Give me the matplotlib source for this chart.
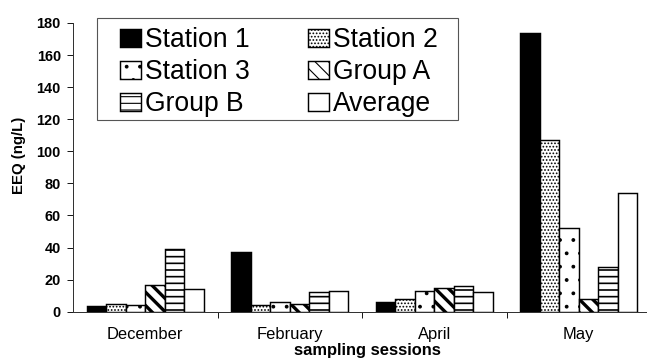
import matplotlib
matplotlib.use("Agg")
import matplotlib.pyplot as plt
from matplotlib.patches import Rectangle
import numpy as np

sessions = ["December", "February", "April", "May"]
series_names = ["Station 1", "Station 2", "Station 3", "Group A", "Group B", "Average"]
station1 = [3.5, 37, 6, 174]
station2 = [5, 4, 8, 107]
station3 = [4, 6, 13, 52]
group_a = [16.5, 4.5, 15, 8]
group_b = [39, 12.5, 16, 28]
average = [14, 13, 12, 74]
y_ticks = [0, 20, 40, 60, 80, 100, 120, 140, 160, 180]

series = [station1, station2, station3, group_a, group_b, average]
styles = [
    dict(facecolor="black", hatch=None, hlw=1.0),
    dict(facecolor="white", hatch="....", hlw=1.0),
    dict(facecolor="white", hatch=".", hlw=1.0),
    dict(facecolor="white", hatch="\\\\", hlw=3.0),
    dict(facecolor="white", hatch="--", hlw=1.5),
    dict(facecolor="white", hatch=None, hlw=1.0),
]

plt.rcParams['font.family'] = ['Liberation Sans', 'DejaVu Sans']
DPI = 80
W, H = 647, 360
fig = plt.figure(figsize=(W / DPI, H / DPI), dpi=DPI)
ax = fig.add_axes([73 / W, (H - 311.7) / H, 578 / W, (311.7 - 23) / H])

x = np.arange(len(sessions))
w = 0.135
handles = []
for i, (vals, name, st) in enumerate(zip(series, series_names, styles)):
    plt.rcParams['hatch.linewidth'] = st["hlw"]
    bars = ax.bar(x + (i - 2.5) * w, vals, width=w, facecolor=st["facecolor"],
                  edgecolor="black", linewidth=1.3, hatch=st["hatch"], label=name)
    for b in bars:
        try:
            b.set_hatch_linewidth(st["hlw"])
        except Exception:
            pass
    handles.append(bars)

ax.set_xlim(-0.5, 3.5)
ax.set_ylim(0, 180)
ax.set_yticks(y_ticks)
ax.set_yticklabels([str(v) for v in y_ticks], fontweight="bold", fontsize=13)
ax.set_xticks(x)
ax.set_xticklabels(sessions, fontsize=14.8)
ax.set_xticks([0.5, 1.5, 2.5], minor=True)
ax.tick_params(axis="x", which="major", length=0, pad=14)
ax.tick_params(axis="x", which="minor", length=5, width=0.8, direction="out")
ax.tick_params(axis="y", length=5, width=0.8, pad=6)

for s in ["top", "right"]:
    ax.spines[s].set_visible(False)
for s in ["left", "bottom"]:
    ax.spines[s].set_linewidth(0.9)
    ax.spines[s].set_color("#333333")

ax.set_ylabel("EEQ (ng/L)", fontweight="bold", fontsize=13.5)
ax.yaxis.set_label_coords((26 - 73) / 578, (311.7 - 155) / 288.7)
ax.set_xlabel("sampling sessions", fontweight="bold", fontsize=14.8)
ax.xaxis.set_label_coords((367 - 73) / 578, (311.7 - 355.5) / 288.7)
ax.xaxis.label.set_va("baseline")

# legend in row-major order (matplotlib fills column-major)
order = [0, 2, 4, 1, 3, 5]
fs_px = 26.5
leg = ax.legend([handles[k] for k in order], [series_names[k] for k in order],
                ncol=2, loc="upper left",
                bbox_to_anchor=((120 - 0.3 * fs_px - 73) / 578, (311.7 - 19) / 288.7),
                fontsize=fs_px * 72 / DPI, frameon=False, borderpad=0.3,
                labelspacing=0.23, handlelength=0.8, handleheight=0.68,
                handletextpad=0.15, columnspacing=2.19, borderaxespad=0)
fig.add_artist(Rectangle((97 / W, 1 - 120 / H), (458 - 97) / W, (120 - 18) / H,
                         transform=fig.transFigure, fill=False,
                         edgecolor="#555555", linewidth=1.0))

fig.savefig("out.png", dpi=DPI, facecolor="white")
